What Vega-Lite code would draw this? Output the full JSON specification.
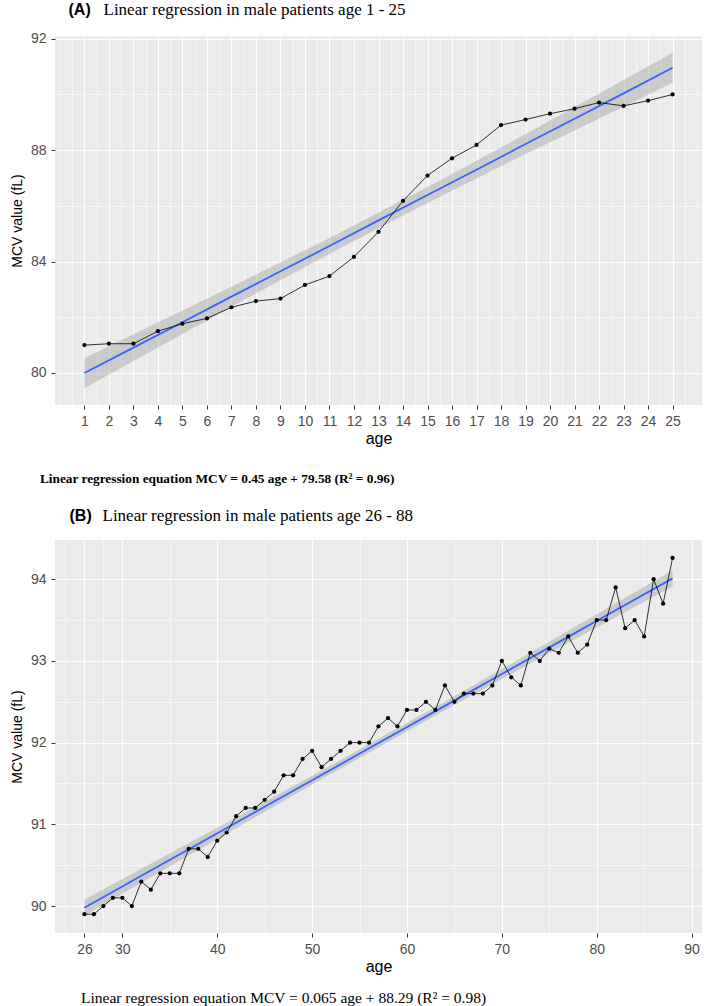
{
  "$schema": "https://vega.github.io/schema/vega-lite/v6.json",
  "background": "white",
  "padding": {"left": 10, "top": 0, "right": 0, "bottom": 0},
  "spacing": 20,
  "datasets": {
    "a_pts": [
      {"age": 1, "mcv": 81.0}, {"age": 2, "mcv": 81.05}, {"age": 3, "mcv": 81.05}, {"age": 4, "mcv": 81.5},
      {"age": 5, "mcv": 81.77}, {"age": 6, "mcv": 81.96}, {"age": 7, "mcv": 82.36}, {"age": 8, "mcv": 82.58},
      {"age": 9, "mcv": 82.67}, {"age": 10, "mcv": 83.16}, {"age": 11, "mcv": 83.48}, {"age": 12, "mcv": 84.17},
      {"age": 13, "mcv": 85.07}, {"age": 14, "mcv": 86.18}, {"age": 15, "mcv": 87.09}, {"age": 16, "mcv": 87.71},
      {"age": 17, "mcv": 88.19}, {"age": 18, "mcv": 88.9}, {"age": 19, "mcv": 89.1}, {"age": 20, "mcv": 89.31},
      {"age": 21, "mcv": 89.49}, {"age": 22, "mcv": 89.71}, {"age": 23, "mcv": 89.59}, {"age": 24, "mcv": 89.78},
      {"age": 25, "mcv": 90.0}
    ],
    "a_band": [
      {"age": 1, "lo": 79.45, "fit": 80.0, "hi": 80.54},
      {"age": 3, "lo": 80.43, "fit": 80.91, "hi": 81.39},
      {"age": 5, "lo": 81.4, "fit": 81.82, "hi": 82.24},
      {"age": 7, "lo": 82.38, "fit": 82.74, "hi": 83.1},
      {"age": 9, "lo": 83.33, "fit": 83.65, "hi": 83.97},
      {"age": 11, "lo": 84.27, "fit": 84.56, "hi": 84.85},
      {"age": 13, "lo": 85.2, "fit": 85.48, "hi": 85.76},
      {"age": 15, "lo": 86.1, "fit": 86.39, "hi": 86.68},
      {"age": 17, "lo": 86.98, "fit": 87.3, "hi": 87.62},
      {"age": 19, "lo": 87.86, "fit": 88.22, "hi": 88.58},
      {"age": 21, "lo": 88.71, "fit": 89.13, "hi": 89.55},
      {"age": 23, "lo": 89.56, "fit": 90.04, "hi": 90.52},
      {"age": 25, "lo": 90.42, "fit": 90.96, "hi": 91.5}
    ],
    "b_pts": [
      {"age": 26, "mcv": 89.9}, {"age": 27, "mcv": 89.9}, {"age": 28, "mcv": 90.0}, {"age": 29, "mcv": 90.1},
      {"age": 30, "mcv": 90.1}, {"age": 31, "mcv": 90.0}, {"age": 32, "mcv": 90.3}, {"age": 33, "mcv": 90.2},
      {"age": 34, "mcv": 90.4}, {"age": 35, "mcv": 90.4}, {"age": 36, "mcv": 90.4}, {"age": 37, "mcv": 90.7},
      {"age": 38, "mcv": 90.7}, {"age": 39, "mcv": 90.6}, {"age": 40, "mcv": 90.8}, {"age": 41, "mcv": 90.9},
      {"age": 42, "mcv": 91.1}, {"age": 43, "mcv": 91.2}, {"age": 44, "mcv": 91.2}, {"age": 45, "mcv": 91.3},
      {"age": 46, "mcv": 91.4}, {"age": 47, "mcv": 91.6}, {"age": 48, "mcv": 91.6}, {"age": 49, "mcv": 91.8},
      {"age": 50, "mcv": 91.9}, {"age": 51, "mcv": 91.7}, {"age": 52, "mcv": 91.8}, {"age": 53, "mcv": 91.9},
      {"age": 54, "mcv": 92.0}, {"age": 55, "mcv": 92.0}, {"age": 56, "mcv": 92.0}, {"age": 57, "mcv": 92.2},
      {"age": 58, "mcv": 92.3}, {"age": 59, "mcv": 92.2}, {"age": 60, "mcv": 92.4}, {"age": 61, "mcv": 92.4},
      {"age": 62, "mcv": 92.5}, {"age": 63, "mcv": 92.4}, {"age": 64, "mcv": 92.7}, {"age": 65, "mcv": 92.5},
      {"age": 66, "mcv": 92.6}, {"age": 67, "mcv": 92.6}, {"age": 68, "mcv": 92.6}, {"age": 69, "mcv": 92.7},
      {"age": 70, "mcv": 93.0}, {"age": 71, "mcv": 92.8}, {"age": 72, "mcv": 92.7}, {"age": 73, "mcv": 93.1},
      {"age": 74, "mcv": 93.0}, {"age": 75, "mcv": 93.15}, {"age": 76, "mcv": 93.1}, {"age": 77, "mcv": 93.3},
      {"age": 78, "mcv": 93.1}, {"age": 79, "mcv": 93.2}, {"age": 80, "mcv": 93.5}, {"age": 81, "mcv": 93.5},
      {"age": 82, "mcv": 93.9}, {"age": 83, "mcv": 93.4}, {"age": 84, "mcv": 93.5}, {"age": 85, "mcv": 93.3},
      {"age": 86, "mcv": 94.0}, {"age": 87, "mcv": 93.7}, {"age": 88, "mcv": 94.26}
    ],
    "b_band": [
      {"age": 26, "lo": 89.88, "fit": 89.98, "hi": 90.08},
      {"age": 32, "lo": 90.284, "fit": 90.37, "hi": 90.456},
      {"age": 38, "lo": 90.687, "fit": 90.76, "hi": 90.833},
      {"age": 44, "lo": 91.088, "fit": 91.15, "hi": 91.212},
      {"age": 50, "lo": 91.486, "fit": 91.54, "hi": 91.594},
      {"age": 57, "lo": 91.944, "fit": 91.995, "hi": 92.046},
      {"age": 64, "lo": 92.396, "fit": 92.45, "hi": 92.504},
      {"age": 70, "lo": 92.778, "fit": 92.84, "hi": 92.902},
      {"age": 76, "lo": 93.157, "fit": 93.23, "hi": 93.303},
      {"age": 82, "lo": 93.534, "fit": 93.62, "hi": 93.706},
      {"age": 88, "lo": 93.91, "fit": 94.01, "hi": 94.11}
    ]
  },
  "config": {
    "view": {"fill": "#EBEBEB", "stroke": null},
    "concat": {"spacing": 20},
    "axis": {
      "gridColor": "white", "gridOpacity": 1, "domain": false,
      "tickColor": "#333333", "tickSize": 4, "labelFlush": false,
      "labelColor": "#4D4D4D", "labelFont": "Liberation Sans", "labelFontSize": 14, "labelPadding": 5,
      "titleFont": "Liberation Sans", "titleFontSize": 16, "titleFontWeight": "normal", "titleColor": "black"
    },
    "axisLeft": {"titleFontSize": 14, "titlePadding": 6},
    "axisBottom": {"titlePadding": 2}
  },
  "vconcat": [
    {
      "width": 647,
      "height": 369,
      "title": {"text": "Linear regression equation MCV = 0.45 age + 79.58 (R² = 0.96)", "orient": "bottom", "anchor": "start", "frame": "group", "dx": -15, "offset": 26, "font": "Liberation Serif", "fontSize": 13.3, "fontWeight": "bold", "color": "black"},
      "resolve": {"axis": {"x": "independent", "y": "independent"}},
      "layer": [
        {
          "data": {"name": "a_band"},
          "mark": {"type": "area", "color": "#999999", "opacity": 0.4},
          "encoding": {
            "x": {"field": "age", "type": "quantitative", "scale": {"domain": [-0.2, 26.2], "nice": false, "zero": false},
              "axis": {"orient": "top", "values": [0,0.5,1,1.5,2,2.5,3,3.5,4,4.5,5,5.5,6,6.5,7,7.5,8,8.5,9,9.5,10,10.5,11,11.5,12,12.5,13,13.5,14,14.5,15,15.5,16,16.5,17,17.5,18,18.5,19,19.5,20,20.5,21,21.5,22,22.5,23,23.5,24,24.5,25,25.5,26],
                "grid": true, "gridWidth": 0.6, "ticks": false, "labels": false, "domain": false,
                "title": "(A)", "titleX": 13, "titleY": -22, "titleAlign": "left", "titleBaseline": "alphabetic", "titleAngle": 0,
                "titleFont": "Liberation Sans", "titleFontSize": 16, "titleFontWeight": "bold"}},
            "y": {"field": "lo", "type": "quantitative", "scale": {"domain": [78.85, 92.1], "nice": false, "zero": false},
              "axis": {"orient": "right", "values": [82, 86, 90], "grid": true, "gridWidth": 0.6, "ticks": false, "labels": false, "domain": false,
                "title": "Linear regression in male patients age 1 - 25", "titleX": -599, "titleY": -22, "titleAngle": 0, "titleAlign": "left", "titleBaseline": "alphabetic",
                "titleFont": "Liberation Serif", "titleFontSize": 17, "titleFontWeight": "normal"}},
            "y2": {"field": "hi"}
          }
        },
        {
          "data": {"name": "a_band"},
          "mark": {"type": "line", "color": "#3366FF", "strokeWidth": 1.8},
          "encoding": {
            "x": {"field": "age", "type": "quantitative", "axis": null},
            "y": {"field": "fit", "type": "quantitative", "axis": null}
          }
        },
        {
          "data": {"name": "a_pts"},
          "mark": {"type": "line", "color": "black", "strokeWidth": 0.8, "point": {"filled": true, "size": 18, "color": "black"}},
          "encoding": {
            "x": {"field": "age", "type": "quantitative",
              "axis": {"orient": "bottom", "values": [1,2,3,4,5,6,7,8,9,10,11,12,13,14,15,16,17,18,19,20,21,22,23,24,25], "grid": true, "gridWidth": 1.1, "title": "age"}},
            "y": {"field": "mcv", "type": "quantitative",
              "axis": {"orient": "left", "values": [80, 84, 88, 92], "grid": true, "gridWidth": 1.1, "title": "MCV value (fL)"}}
          }
        }
      ]
    },
    {
      "width": 647,
      "height": 393,
      "title": {"text": "Linear regression equation MCV = 0.065 age + 88.29 (R² = 0.98)", "orient": "bottom", "anchor": "start", "frame": "group", "dx": 26, "offset": 17, "font": "Liberation Serif", "fontSize": 15.5, "fontWeight": "normal", "color": "black"},
      "resolve": {"axis": {"x": "independent", "y": "independent"}},
      "layer": [
        {
          "data": {"name": "b_band"},
          "mark": {"type": "area", "color": "#999999", "opacity": 0.4},
          "encoding": {
            "x": {"field": "age", "type": "quantitative", "scale": {"domain": [22.9, 91.1], "nice": false, "zero": false},
              "axis": {"orient": "top", "values": [24, 28, 35, 45, 55, 65, 75, 85],
                "grid": true, "gridWidth": 0.6, "ticks": false, "labels": false, "domain": false,
                "title": "(B)", "titleX": 14, "titleY": -20, "titleAlign": "left", "titleBaseline": "alphabetic", "titleAngle": 0,
                "titleFont": "Liberation Sans", "titleFontSize": 16, "titleFontWeight": "bold"}},
            "y": {"field": "lo", "type": "quantitative", "scale": {"domain": [89.67, 94.48], "nice": false, "zero": false},
              "axis": {"orient": "right", "values": [90.5, 91.5, 92.5, 93.5], "grid": true, "gridWidth": 0.6, "ticks": false, "labels": false, "domain": false,
                "title": "Linear regression in male patients age 26 - 88", "titleX": -600, "titleY": -20, "titleAngle": 0, "titleAlign": "left", "titleBaseline": "alphabetic",
                "titleFont": "Liberation Serif", "titleFontSize": 17, "titleFontWeight": "normal"}},
            "y2": {"field": "hi"}
          }
        },
        {
          "data": {"name": "b_band"},
          "mark": {"type": "line", "color": "#3366FF", "strokeWidth": 1.8},
          "encoding": {
            "x": {"field": "age", "type": "quantitative", "axis": null},
            "y": {"field": "fit", "type": "quantitative", "axis": null}
          }
        },
        {
          "data": {"name": "b_pts"},
          "mark": {"type": "line", "color": "black", "strokeWidth": 0.8, "point": {"filled": true, "size": 18, "color": "black"}},
          "encoding": {
            "x": {"field": "age", "type": "quantitative",
              "axis": {"orient": "bottom", "values": [26, 30, 40, 50, 60, 70, 80, 90], "grid": true, "gridWidth": 1.1, "title": "age"}},
            "y": {"field": "mcv", "type": "quantitative",
              "axis": {"orient": "left", "values": [90, 91, 92, 93, 94], "grid": true, "gridWidth": 1.1, "title": "MCV value (fL)"}}
          }
        }
      ]
    }
  ]
}
